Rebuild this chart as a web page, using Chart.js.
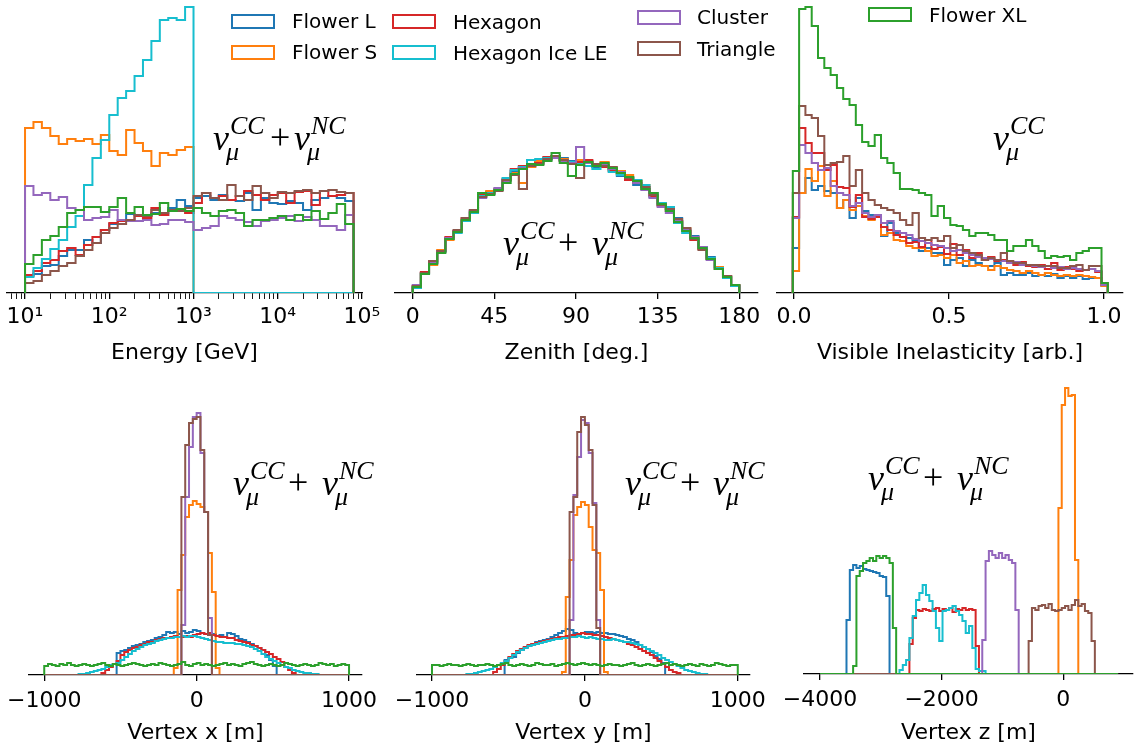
<!DOCTYPE html>
<html>
<head>
<meta charset="utf-8">
<script src="https://cdn.jsdelivr.net/npm/chart.js@4.4.0/dist/chart.umd.min.js"></script>
<style>
  body { margin: 0; background: #fff; width: 1141px; height: 749px; overflow: hidden; position: relative; font-family: 'DejaVu Sans'; }
  canvas { position: absolute; }
  .leg { position: absolute; font-size: 20px; line-height: 24px; color: #000; white-space: nowrap; }
  .box { position: absolute; width: 40px; height: 11px; border: 2px solid; }
</style>
</head>
<body>
<script>
const seriesNames = ['Flower L', 'Flower S', 'Hexagon', 'Hexagon Ice LE', 'Cluster', 'Triangle', 'Flower XL'];
const seriesColors = ['#1f77b4', '#ff7f0e', '#d62728', '#17becf', '#9467bd', '#8c564b', '#2ca02c'];

// heights in pixels above each panel's baseline

// Energy: 39 log bins, 10^1 .. 10^4.9
const energyBins = { lo: 1, hi: 4.9, n: 39 };
const energyFlowerL = [17,19,27,28,37,43,43,53,50,63,69,73,79,78,77,80,78,85,93,87,95,97,93,98,93,92,100,83,95,90,89,92,90,83,93,95,97,95,92];
const energyFlowerS = [165,171,165,157,149,154,152,154,149,158,142,138,163,150,142,127,140,138,143,146];
const energyHexagon = [18,22,30,33,42,45,38,48,56,63,70,72,73,77,75,85,78,82,83,80,90,100,95,97,93,97,102,98,93,98,100,90,101,102,88,102,97,98,100];
const energyIceLE = [16,25,34,44,53,66,77,108,135,153,178,195,202,217,233,252,273,275,273,286];
const energyCluster = [107,98,100,93,96,85,83,73,75,76,83,73,72,72,73,68,69,73,73,71,63,65,67,77,75,73,71,67,72,73,75,77,72,76,73,67,67,63,78];
const energyTriangle = [10,12,18,22,27,30,37,43,50,60,65,69,73,78,77,83,80,83,82,85,97,100,95,93,108,97,93,107,100,95,101,100,102,103,100,102,103,101,100];
const energyFlowerXL = [29,38,53,57,66,80,83,86,86,81,86,95,80,86,78,79,90,82,84,82,85,80,77,82,83,80,67,73,73,75,77,73,78,73,82,74,80,89,69];
const energyTicks = [10, 100, 1000, 10000, 100000];
const energyTickLabels = ['10¹', '10²', '10³', '10⁴', '10⁵'];

// Zenith: 40 bins of 4.5 deg
const zenithBins = { lo: 0, hi: 180, n: 40 };
const zenithFlowerL = [5,20,30,42,55,62,72,83,96,101,104,113,122,126,126,131,134,136,135,132,130,132,126,128,124,117,115,108,106,96,88,86,75,64,57,46,36,26,17,7];
const zenithFlowerS = [6,20,28,43,53,61,74,80,97,102,104,113,120,110,126,132,135,137,134,129,133,130,129,131,123,122,118,113,108,100,90,84,72,65,56,44,35,26,17,8];
const zenithHexagon = [7,21,31,41,56,62,75,82,98,100,103,114,124,127,127,130,136,137,132,130,131,133,128,126,122,119,113,110,104,97,87,82,72,62,53,44,34,24,16,7];
const zenithIceLE = [5,19,30,41,54,60,72,80,97,100,103,115,123,126,133,134,135,136,133,131,129,127,124,128,121,118,116,113,108,100,90,86,70,60,54,46,35,25,15,7];
const zenithCluster = [8,20,30,42,55,62,73,82,95,99,105,112,118,125,127,129,133,135,132,130,146,130,129,128,124,121,116,110,103,95,86,80,72,63,56,46,33,24,16,8];
const zenithTriangle = [7,20,32,42,54,63,75,83,96,99,102,113,118,104,127,129,134,137,133,129,115,131,129,127,126,120,115,112,106,98,88,84,74,65,54,43,34,24,17,8];
const zenithFlowerXL = [6,19,29,40,54,61,73,81,100,98,103,110,119,124,129,128,132,140,130,117,128,131,127,130,125,120,116,112,104,100,89,82,71,62,55,45,34,24,16,8];
const zenithTicks = [0, 45, 90, 135, 180];
const zenithTickLabels = ['0', '45', '90', '135', '180'];

// Visible inelasticity: 50 bins (no Hexagon Ice LE)
const inelBins = { lo: -0.004, hi: 1.012, n: 50 };
const inelFlowerL = [45,100,115,103,107,102,100,85,93,75,95,82,78,77,57,70,60,56,55,53,42,45,40,40,28,33,35,27,33,30,27,27,30,18,20,18,18,20,17,18,17,19,15,17,15,17,14,15,15,7];
const inelFlowerS = [22,100,124,112,127,97,112,85,93,83,87,77,73,77,58,60,53,52,47,45,45,42,37,38,35,38,30,32,27,28,27,23,27,25,23,22,20,22,20,18,20,18,17,18,17,18,17,16,15,7];
const inelHexagon = [76,165,150,140,140,123,128,106,105,86,98,76,74,76,66,63,58,56,50,51,46,53,44,46,39,49,38,43,35,40,33,36,32,33,30,28,31,27,26,28,24,30,23,26,24,22,23,24,21,8];
const inelCluster = [75,148,140,130,123,125,107,100,98,87,90,80,76,78,70,72,62,60,58,54,52,50,48,47,45,42,43,40,38,36,35,34,33,32,30,31,28,28,27,26,27,25,26,24,25,24,23,24,22,8];
const inelTriangle = [100,187,178,175,157,128,130,131,137,107,123,100,93,88,85,83,80,73,68,80,55,53,55,52,57,45,48,42,40,38,33,35,33,40,32,30,30,28,28,27,27,27,25,25,27,28,23,27,27,10];
const inelFlowerXL = [122,284,286,267,235,225,218,205,194,188,168,151,147,158,135,130,120,104,104,103,100,98,77,87,75,68,67,63,57,60,60,58,53,53,42,47,47,53,47,42,35,37,36,37,33,40,42,45,45,10];
const inelTicks = [0, 0.5, 1];
const inelTickLabels = ['0.0', '0.5', '1.0'];

// Vertex x / y: 80 bins of 25 m; first non-empty bin index for each series
const vxyBins = { lo: -1000, hi: 1000, n: 80 };
const vxStart = [19, 34, 15, 9, 36, 36, 0];
const vxFlowerL = [22,24,25,27,29,30,31,33,34,35,37,38,40,43,42,43,41,44,42,43,45,44,42,41,40,41,39,40,38,42,41,39,36,35,33,31,29,27,25,20,15,9];
const vxFlowerS = [7,85,120,158,170,174,171,168,163,122,83,7];
const vxHexagon = [2,5,8,11,14,20,23,25,27,28,30,31,33,33,35,36,37,37,38,39,38,38,39,38,40,41,42,41,42,40,39,38,38,37,37,35,34,33,32,30,29,27,25,23,21,18,16,13,8,5,2];
const vxIceLE = [1,1,2,3,4,5,6,8,10,11,12,15,18,21,24,26,28,30,31,32,34,35,36,37,37,38,38,39,38,39,39,38,37,36,35,34,33,33,32,32,32,31,31,30,29,28,26,24,21,18,16,14,12,10,8,7,5,4,3,2,2,1,1];
const vxCluster = [50,178,228,258,262,222,163,57];
const vxTriangle = [178,230,252,256,258,225,163,40];
const vxFlowerXL = [9,11,10,9,11,10,12,10,9,10,11,10,9,10,11,12,10,9,11,10,9,10,11,12,11,10,9,10,11,10,12,11,10,9,10,11,13,10,9,11,12,10,11,10,9,10,11,12,10,11,10,9,11,12,13,11,10,9,10,11,10,9,10,12,11,10,9,10,11,10,9,10,12,11,10,11,9,10,11,10];
const vyStart = [19, 34, 16, 9, 36, 36, 0];
const vyFlowerL = [15,17,18,22,25,27,29,31,33,34,35,36,38,40,42,44,46,45,42,41,42,43,43,42,43,42,42,41,41,40,39,38,36,35,33,30,28,26,23,19,16,12];
const vyFlowerS = [3,78,115,160,168,173,170,148,125,122,85,3];
const vyHexagon = [3,6,10,14,18,21,24,26,28,30,31,32,33,34,35,36,37,38,38,39,40,40,41,42,41,41,40,40,39,38,37,36,35,34,33,31,30,28,26,24,22,20,17,14,11,8,5,3,2];
const vyIceLE = [1,1,2,3,4,5,6,8,10,12,14,17,20,23,25,27,29,30,31,32,33,34,35,36,36,37,37,38,38,39,38,37,38,37,36,36,35,35,36,35,34,33,33,32,31,30,28,26,24,22,20,17,15,13,11,9,7,5,4,3,2,1,1];
const vyCluster = [55,180,218,255,252,222,172,55];
const vyTriangle = [163,178,243,258,250,225,170,47];
const vyFlowerXL = [10,10,9,10,11,10,10,9,10,11,10,9,10,10,11,10,9,10,11,12,10,9,10,11,10,9,10,12,11,10,10,11,9,10,11,12,11,10,11,12,11,10,11,10,9,10,11,10,10,9,10,11,12,10,9,10,11,10,9,10,11,12,10,11,10,9,10,11,10,9,11,10,9,10,12,11,10,9,10,10];
const vxyTicks = [-1000, 0, 1000];
const vxyTickLabels = ['\u22121000', '0', '1000'];

// Vertex z: 90 bins, -4000 .. 900 m
const vzBins = { lo: -4000, hi: 900, n: 90 };
const vzStart = [8, 72, 27, 24, 49, 63, 10];
const vzFlowerL = [54,104,109,106,108,105,104,103,102,101,98,97,78];
const vzFlowerS = [166,269,286,278,279,114];
const vzHexagon = [30,56,64,63,65,64,63,65,66,63,65,64,66,62,65,64,66,64,65,64,28];
const vzIceLE = [4,9,14,36,58,74,81,89,79,73,63,46,33,63,64,66,68,63,59,53,41,48,26,5,3,3];
const vzCluster = [34,113,123,119,116,121,116,119,114,111,64];
const vzTriangle = [33,66,64,68,69,66,70,64,63,64,66,68,64,69,74,68,70,63,61,33];
const vzFlowerXL = [8,98,103,111,113,116,113,118,116,118,116,111,46];
const vzTicks = [-4000, -2000, 0];
const vzTickLabels = ['\u22124000', '\u22122000', '0'];

// legend: box x, box y, text x, text middle y
const legendPos = [[231,14,292,21],[231,45,292,52],[392,14,453,22],[392,45,453,53],[637,10,697,17],[637,41,697,49],[868,7,929,15]];

function linEdges(b) {
    const e = [];
    for (let i = 0; i <= b.n; i++) e.push(b.lo + (b.hi - b.lo) * i / b.n);
    return e;
}
function logEdges(b) {
    const e = [];
    for (let i = 0; i <= b.n; i++) e.push(Math.pow(10, b.lo + (b.hi - b.lo) * i / b.n));
    return e;
}
function pad(n, start, vals) {
    const a = new Array(n).fill(0);
    vals.forEach((v, i) => { a[start + i] = v; });
    return a;
}
function stepPoints(edges, counts) {
    const n = counts.length;
    const pts = [{ x: edges[0], y: 0 }];
    counts.forEach((c, i) => pts.push({ x: edges[i], y: c }));
    pts.push({ x: edges[n], y: counts[n - 1] });
    pts.push({ x: edges[n], y: 0 });
    return pts;
}

const energyMinor = [7, 8, 9];
[10, 100, 1000, 10000].forEach(d => { for (let m = 2; m <= 9; m++) energyMinor.push(m * d); });

function drawNu(ctx, x, y, sup) {
    ctx.font = 'italic 36px "Liberation Serif"';
    ctx.fillText('\u03bd', x, y);
    ctx.font = 'italic 26px "Liberation Serif"';
    ctx.fillText('\u03bc', x + 13, y + 10);
    ctx.fillText(sup, x + 17, y - 16);
}

const notesPlugin = {
    id: 'notes',
    afterDatasetsDraw(chart) {
        const p = chart.options.plugins.notes;
        if (!p) return;
        const ctx = chart.ctx;
        ctx.save();
        ctx.fillStyle = '#000';
        ctx.textBaseline = 'alphabetic';
        ctx.textAlign = 'left';
        p.nus.forEach(n => drawNu(ctx, n[0] - p.ox, p.y - p.oy, n[1]));
        if (p.plus !== undefined) {
            ctx.font = '36px "Liberation Serif"';
            ctx.fillText('+', p.plus - p.ox, p.y - p.oy - 1);
        }
        ctx.restore();
    }
};

function makePanel(p) {
    const cv = document.createElement('canvas');
    cv.width = p.box[2];
    cv.height = p.box[3];
    cv.style.left = p.box[0] + 'px';
    cv.style.top = p.box[1] + 'px';
    document.body.appendChild(cv);

    const datasets = [];
    p.series.forEach((s, i) => {
        if (!s) return;
        datasets.push({
            label: seriesNames[i],
            data: stepPoints(p.edges, s),
            borderColor: seriesColors[i],
            borderWidth: 2,
            pointRadius: 0,
            fill: false,
            stepped: 'before',
            tension: 0,
            order: seriesNames.length - i
        });
    });

    const majors = new Set(p.ticks);
    const allTicks = p.ticks.concat(p.minor || []).sort((a, b) => a - b);
    const axisH = p.box[1] + p.box[3] - p.area[3];

    new Chart(cv, {
        type: 'line',
        data: { datasets },
        options: {
            responsive: false,
            animation: false,
            events: [],
            layout: { padding: { left: p.area[0] - p.box[0], right: p.box[0] + p.box[2] - p.area[1], top: p.area[2] - p.box[1], bottom: 0 } },
            plugins: {
                legend: { display: false },
                tooltip: { enabled: false },
                notes: Object.assign({ ox: p.box[0], oy: p.box[1] }, p.notes)
            },
            scales: {
                x: {
                    type: p.xType,
                    min: p.xMin,
                    max: p.xMax,
                    afterBuildTicks: s => { s.ticks = allTicks.map(v => ({ value: v })); },
                    afterFit: s => { s.height = axisH; s.paddingLeft = 0; s.paddingRight = 0; },
                    ticks: {
                        autoSkip: false, maxRotation: 0, minRotation: 0,
                        padding: p.tickPad,
                        color: '#000',
                        font: { family: 'DejaVu Sans', size: 22 },
                        callback: v => majors.has(v) ? p.labels[p.ticks.indexOf(v)] : ''
                    },
                    grid: {
                        display: true, drawOnChartArea: false, drawTicks: true, tickLength: 6,
                        color: '#000',
                        lineWidth: c => (c.tick && majors.has(c.tick.value)) ? 1.3 : 0.9
                    },
                    border: { display: true, color: '#000', width: 1.3 },
                    title: {
                        display: true, text: p.title, color: '#000',
                        font: { family: 'DejaVu Sans', size: 22 },
                        padding: { top: 0, bottom: 2 }
                    }
                },
                y: { type: 'linear', display: false, min: 0, max: p.area[3] - p.area[2] }
            }
        },
        plugins: [notesPlugin]
    });
}

const nE = energyBins.n, nX = vxyBins.n, nZ = vzBins.n;

makePanel({
    box: [0, 0, 390, 368], area: [7, 362, 0, 293],
    xType: 'logarithmic', xMin: Math.pow(10, 0.786), xMax: 1e5,
    ticks: energyTicks, labels: energyTickLabels, minor: energyMinor, tickPad: 5,
    title: 'Energy [GeV]', edges: logEdges(energyBins),
    series: [energyFlowerL, pad(nE, 0, energyFlowerS), energyHexagon, pad(nE, 0, energyIceLE), energyCluster, energyTriangle, energyFlowerXL],
    notes: { y: 150, nus: [[213, 'CC'], [294, 'NC']], plus: 270 }
});
makePanel({
    box: [380, 0, 395, 368], area: [395, 758, 0, 293],
    xType: 'linear', xMin: -9.76, xMax: 190.3,
    ticks: zenithTicks, labels: zenithTickLabels, tickPad: 5,
    title: 'Zenith [deg.]', edges: linEdges(zenithBins),
    series: [zenithFlowerL, zenithFlowerS, zenithHexagon, zenithIceLE, zenithCluster, zenithTriangle, zenithFlowerXL],
    notes: { y: 255, nus: [[503, 'CC'], [592, 'NC']], plus: 558 }
});
makePanel({
    box: [765, 0, 376, 368], area: [777, 1123, 0, 293],
    xType: 'linear', xMin: -0.055, xMax: 1.061,
    ticks: inelTicks, labels: inelTickLabels, tickPad: 5,
    title: 'Visible Inelasticity [arb.]', edges: linEdges(inelBins),
    series: [inelFlowerL, inelFlowerS, inelHexagon, null, inelCluster, inelTriangle, inelFlowerXL],
    notes: { y: 150, nus: [[993, 'CC']] }
});
makePanel({
    box: [0, 370, 385, 378], area: [29, 362, 380, 675],
    xType: 'linear', xMin: -1100, xMax: 1085,
    ticks: vxyTicks, labels: vxyTickLabels, tickPad: 7,
    title: 'Vertex x [m]', edges: linEdges(vxyBins),
    series: [vxFlowerL, vxFlowerS, vxHexagon, vxIceLE, vxCluster, vxTriangle, vxFlowerXL].map((s, i) => pad(nX, vxStart[i], s)),
    notes: { y: 495, nus: [[233, 'CC'], [322, 'NC']], plus: 288 }
});
makePanel({
    box: [390, 370, 385, 378], area: [417, 750, 380, 675],
    xType: 'linear', xMin: -1098, xMax: 1080,
    ticks: vxyTicks, labels: vxyTickLabels, tickPad: 7,
    title: 'Vertex y [m]', edges: linEdges(vxyBins),
    series: [vyFlowerL, vyFlowerS, vyHexagon, vyIceLE, vyCluster, vyTriangle, vyFlowerXL].map((s, i) => pad(nX, vyStart[i], s)),
    notes: { y: 495, nus: [[625, 'CC'], [713, 'NC']], plus: 680 }
});
makePanel({
    box: [775, 370, 366, 378], area: [804, 1133, 380, 674],
    xType: 'linear', xMin: -4263, xMax: 1146,
    ticks: vzTicks, labels: vzTickLabels, tickPad: 7,
    title: 'Vertex z [m]', edges: linEdges(vzBins),
    series: [vzFlowerL, vzFlowerS, vzHexagon, vzIceLE, vzCluster, vzTriangle, vzFlowerXL].map((s, i) => pad(nZ, vzStart[i], s)),
    notes: { y: 490, nus: [[868, 'CC'], [957, 'NC']], plus: 923 }
});

// legend
seriesNames.forEach((name, i) => {
    const [bx, by, tx, ty] = legendPos[i];
    const box = document.createElement('div');
    box.className = 'box';
    box.style.left = bx + 'px';
    box.style.top = by + 'px';
    box.style.borderColor = seriesColors[i];
    document.body.appendChild(box);
    const t = document.createElement('div');
    t.className = 'leg';
    t.style.left = tx + 'px';
    t.style.top = (ty - 12) + 'px';
    t.textContent = name;
    document.body.appendChild(t);
});
</script>
</body>
</html>
